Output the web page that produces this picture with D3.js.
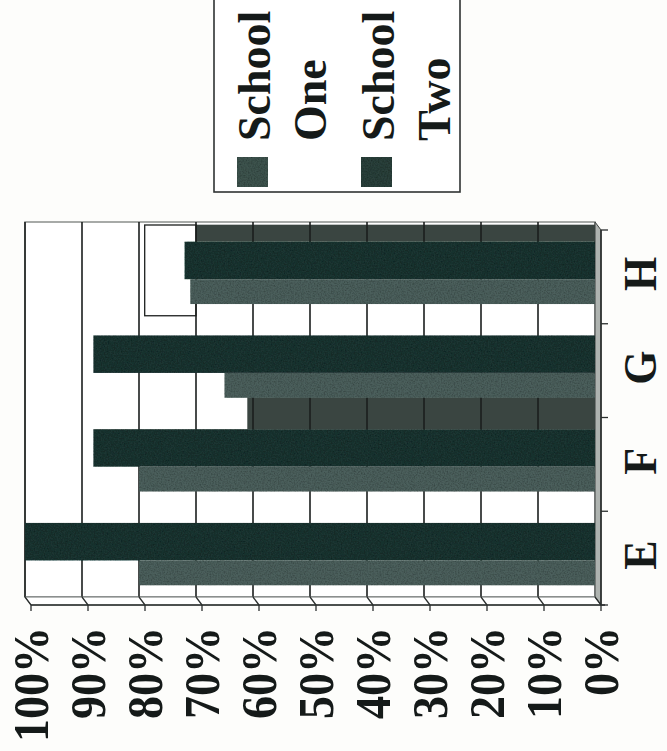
<!DOCTYPE html>
<html>
<head>
<meta charset="utf-8">
<script src="https://cdn.jsdelivr.net/npm/d3@7"></script>
<style>
  html, body { margin: 0; padding: 0; background: #fdfdfb; }
  svg { display: block; }
  text { font-family: "Liberation Serif", "DejaVu Serif", serif; font-weight: bold; fill: #151a19; }
</style>
</head>
<body>
<div id="chart"></div>
<script>
var categories = ["E", "F", "G", "H"];
var seriesNames = ["School One", "School Two"];
var schoolOne = [0.80, 0.80, 0.65, 0.71];
var schoolTwo = [1.00, 0.88, 0.88, 0.72];
var tickValues = [0, 0.1, 0.2, 0.3, 0.4, 0.5, 0.6, 0.7, 0.8, 0.9, 1.0];
// grey "side faces" seen on the back wall above some bars
var faceCats = ["H", "F"];
var faceEnds = [0.70, 0.61];
// odd outlined panel on the back wall next to H
var boxCat = "H";
var boxRange = [0.70, 0.79];

var width = 667, height = 751;
var colors = { "School One": "#4b5f5b", "School Two": "#1f3532" };

var svg = d3.select("#chart").append("svg")
    .attr("width", width)
    .attr("height", height);

// speckle filter, to look a bit like the scan
var defs = svg.append("defs");
var grain = defs.append("filter").attr("id", "grain").attr("x", 0).attr("y", 0).attr("width", 1).attr("height", 1);
grain.append("feTurbulence").attr("type", "fractalNoise").attr("baseFrequency", 0.7).attr("numOctaves", 2).attr("seed", 3).attr("result", "n");
grain.append("feColorMatrix").attr("in", "n").attr("type", "matrix")
    .attr("values", "0 0 0 0 0  0 0 0 0 0  0 0 0 0 0  0.9 0 0 0 -0.35").attr("result", "na");
grain.append("feComposite").attr("in", "na").attr("in2", "SourceGraphic").attr("operator", "in").attr("result", "nm");
var merge = grain.append("feMerge");
merge.append("feMergeNode").attr("in", "SourceGraphic");
merge.append("feMergeNode").attr("in", "nm");

// the chart is drawn turned on its side: values run right (0%) to left (100%)
var xBack = d3.scaleLinear().domain([0, 1]).range([595, 25]);
var xFront = d3.scaleLinear().domain([0, 1]).range([601, 31]);
var yBack = d3.scaleBand().domain(categories.slice().reverse()).range([222, 597]);
var yFront = d3.scaleBand().domain(categories.slice().reverse()).range([230, 605]);
var bw = yBack.bandwidth();
var inner = d3.scaleLinear().domain([0, 1]).range([0, bw]);
var rows = { "School Two": [0.21, 0.61], "School One": [0.61, 0.875] };
var wallTop = yBack.range()[0], wallBottom = yBack.range()[1];

// back wall
svg.append("rect")
    .attr("x", xBack(1)).attr("y", wallTop)
    .attr("width", xBack(0) - xBack(1)).attr("height", wallBottom - wallTop)
    .attr("fill", "#ffffff").attr("stroke", "#8a8e8c").attr("stroke-width", 1.5);

// side wall on the right
svg.append("polygon")
    .attr("points", [[xBack(0), wallTop], [xFront(0), yFront.range()[0]], [xFront(0), yFront.range()[1]], [xBack(0), wallBottom]].join(" "))
    .attr("fill", "#aeb3b0").attr("stroke", "#3a3f3d").attr("stroke-width", 1);

// grey faces
var faceDepth = { H: 17, F: 32 };
svg.append("g").selectAll("rect")
    .data(faceCats.map(function(c, i) { return { cat: c, end: faceEnds[i] }; }))
    .enter().append("rect")
    .attr("x", function(d) { return xBack(d.end); })
    .attr("y", function(d) { return yBack(d.cat) + inner(rows["School Two"][0]) - faceDepth[d.cat]; })
    .attr("width", function(d) { return xBack(0) - xBack(d.end); })
    .attr("height", function(d) { return faceDepth[d.cat]; })
    .attr("fill", "#3a4541");

// outlined panel
svg.append("rect")
    .attr("x", xBack(boxRange[1])).attr("y", yBack(boxCat) + 3)
    .attr("width", xBack(boxRange[0]) - xBack(boxRange[1]))
    .attr("height", bw - 3)
    .attr("fill", "none").attr("stroke", "#1c1f1e").attr("stroke-width", 1.3);

// gridlines
svg.append("g").selectAll("line")
    .data(tickValues.filter(function(t) { return t > 0; }))
    .enter().append("line")
    .attr("x1", function(t) { return xBack(t); }).attr("x2", function(t) { return xBack(t); })
    .attr("y1", wallTop).attr("y2", wallBottom)
    .attr("stroke", "#1b1e1d").attr("stroke-width", 1.6);

// bars
var barData = [];
categories.forEach(function(c, i) {
    barData.push({ cat: c, series: "School Two", value: schoolTwo[i] });
    barData.push({ cat: c, series: "School One", value: schoolOne[i] });
});
svg.append("g").attr("filter", "url(#grain)").selectAll("rect")
    .data(barData)
    .enter().append("rect")
    .attr("x", function(d) { return xBack(d.value); })
    .attr("y", function(d) { return yBack(d.cat) + inner(rows[d.series][0]); })
    .attr("width", function(d) { return xBack(0) - xBack(d.value); })
    .attr("height", function(d) { return inner(rows[d.series][1]) - inner(rows[d.series][0]); })
    .attr("fill", function(d) { return colors[d.series]; });

// floor
svg.append("polygon")
    .attr("points", [[xBack(1), wallBottom], [xBack(0), wallBottom], [xFront(0), yFront.range()[1]], [xFront(1), yFront.range()[1]]].join(" "))
    .attr("fill", "#ffffff").attr("stroke", "#6f7472").attr("stroke-width", 1);

// value axis (front edge of the floor)
var axisY = yFront.range()[1];
svg.append("line")
    .attr("x1", xFront(1)).attr("x2", xFront(0) + 4)
    .attr("y1", axisY).attr("y2", axisY)
    .attr("stroke", "#2a2e2d").attr("stroke-width", 1.6);
var ticks = svg.append("g").selectAll("g").data(tickValues).enter().append("g");
ticks.append("line")
    .attr("x1", function(t) { return xBack(t); }).attr("y1", wallBottom)
    .attr("x2", function(t) { return xFront(t); }).attr("y2", axisY)
    .attr("stroke", "#2a2e2d").attr("stroke-width", 1.3);
ticks.append("line")
    .attr("x1", function(t) { return xFront(t); }).attr("y1", axisY)
    .attr("x2", function(t) { return xFront(t); }).attr("y2", axisY + 6)
    .attr("stroke", "#2a2e2d").attr("stroke-width", 1.3);
ticks.append("text")
    .attr("transform", function(t) { return "translate(" + xFront(t) + ",627) rotate(-90) scale(1,1.1)"; })
    .attr("text-anchor", "end")
    .attr("dy", "0.34em")
    .style("font-size", "46px")
    .text(d3.format(".0%"));

// category axis on the right
var catX = xFront(0);
svg.append("line")
    .attr("x1", catX).attr("x2", catX)
    .attr("y1", yFront.range()[0]).attr("y2", yFront.range()[1])
    .attr("stroke", "#2a2e2d").attr("stroke-width", 1.6);
var bounds = categories.slice().reverse().map(function(c) { return yFront(c); }).concat([yFront.range()[1]]);
svg.append("g").selectAll("line").data(bounds).enter().append("line")
    .attr("x1", catX).attr("x2", catX + 7)
    .attr("y1", function(d) { return d; }).attr("y2", function(d) { return d; })
    .attr("stroke", "#2a2e2d").attr("stroke-width", 1.3);
svg.append("g").selectAll("text").data(categories).enter().append("text")
    .attr("transform", function(c) { return "translate(640," + (yFront(c) + yFront.bandwidth() / 2 - 3) + ") rotate(-90) scale(1,1.05)"; })
    .attr("text-anchor", "middle")
    .attr("dy", "0.34em")
    .style("font-size", "44px")
    .text(function(c) { return c; });

// legend
var legend = svg.append("g");
legend.append("rect")
    .attr("x", 214).attr("y", -4).attr("width", 246).attr("height", 196)
    .attr("fill", "#ffffff").attr("stroke", "#2f3332").attr("stroke-width", 1.6);
var items = legend.selectAll("g.item").data(seriesNames).enter().append("g").attr("class", "item");
items.append("rect")
    .attr("x", function(d, i) { return 237 + i * 124; })
    .attr("y", 157).attr("width", 31).attr("height", 30)
    .attr("fill", function(d) { return d === "School One" ? "#3d524e" : "#2a3f3b"; })
    .attr("filter", "url(#grain)");
items.each(function(d, i) {
    var words = d.split(" ");
    var g = d3.select(this);
    words.forEach(function(w, j) {
        g.append("text")
            .attr("transform", "translate(" + (270 + i * 124 + j * 56) + ",141) rotate(-90)")
            .attr("text-anchor", "start")
            .style("font-size", "46px")
            .text(w);
    });
});
</script>
</body>
</html>
